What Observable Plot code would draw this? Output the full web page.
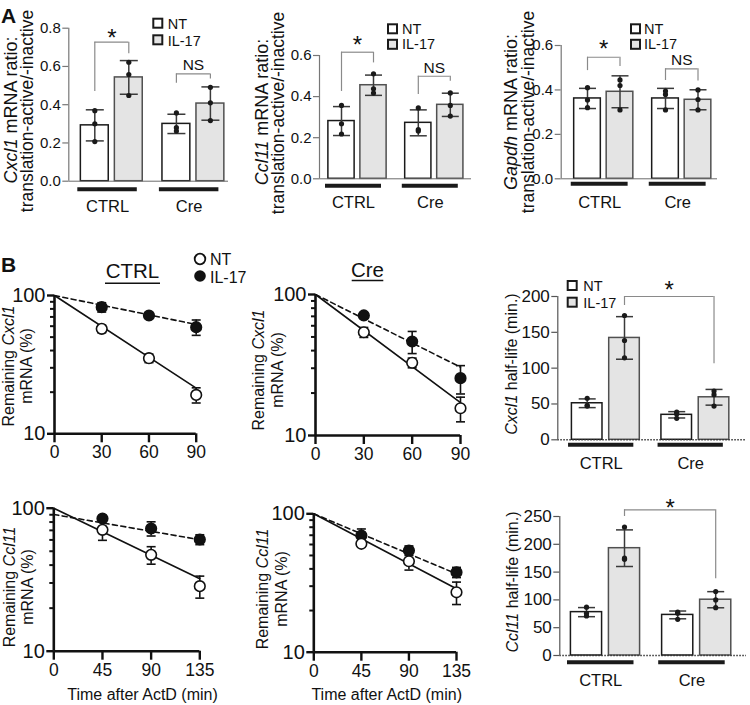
<!DOCTYPE html>
<html><head><meta charset="utf-8">
<script src="https://cdn.jsdelivr.net/npm/d3@7"></script>
<script src="https://cdn.jsdelivr.net/npm/@observablehq/plot@0.6"></script>
<style>
body{margin:0;background:#fff;}
#fig{position:relative;width:750px;height:705px;overflow:hidden;background:#fff;}
#fig svg{position:absolute;}
</style></head><body><div id="fig"></div>
<script>
const FONT = '"Liberation Sans", Arial, Helvetica, sans-serif';

// ---------- data ----------
const groups = ["CTRL", "Cre"];
const treatments = ["NT", "IL-17"];

// A: translation-active / -inactive mRNA ratio, 3 replicates, [CTRL, Cre]
const cxcl1RatioNT   = [[0.369, 0.300, 0.207], [0.357, 0.280, 0.262]];
const cxcl1RatioIL17 = [[0.622, 0.558, 0.448], [0.491, 0.410, 0.317]];
const ccl11RatioNT   = [[0.357, 0.268, 0.218], [0.345, 0.240, 0.232]];
const ccl11RatioIL17 = [[0.511, 0.438, 0.417], [0.418, 0.357, 0.305]];
const gapdhRatioNT   = [[0.410, 0.355, 0.320], [0.395, 0.380, 0.310]];
const gapdhRatioIL17 = [[0.445, 0.420, 0.310], [0.400, 0.357, 0.310]];
const ratioTicks08 = [0, 0.2, 0.4, 0.6, 0.8];
const ratioTicks06 = [0, 0.2, 0.4, 0.6];

// B: mRNA half-life (min), 3 replicates, [CTRL, Cre]
const cxcl1HalfNT   = [[58, 48, 47], [38.6, 36, 30]];
const cxcl1HalfIL17 = [[173.5, 138.6, 114.4], [68, 63, 47]];
const ccl11HalfNT   = [[87, 76, 71], [78, 76, 65]];
const ccl11HalfIL17 = [[231, 175, 173], [115, 100, 86]];
const halfTicksCxcl1 = [0, 50, 100, 150, 200];
const halfTicksCcl11 = [0, 50, 100, 150, 200, 250];

// B: remaining mRNA (%) after ActD, mean and SEM
const cxcl1Times = [30, 60, 90];
const cxcl1CtrlNT = [57.4, 35.2, 19.1],  cxcl1CtrlNTsem = [3.5, 2.5, 2.4];
const cxcl1CtrlIL = [82.3, 71.7, 59.0],  cxcl1CtrlILsem = [6.4, 2.0, 7.5];
const cxcl1CreNT  = [54.0, 32.8, 15.6],  cxcl1CreNTsem  = [4.4, 2.6, 3.1];
const cxcl1CreIL  = [71.0, 46.4, 25.5],  cxcl1CreILsem  = [3.0, 8.3, 5.8];
const ccl11Times = [45, 90, 135];
const ccl11CtrlNT = [70.6, 47.2, 28.5],  ccl11CtrlNTsem = [11, 6.6, 5.0];
const ccl11CtrlIL = [84.7, 72.1, 60.4],  ccl11CtrlILsem = [3.0, 8.2, 4.8];
const ccl11CreNT  = [60.7, 45.4, 27.1],  ccl11CreNTsem  = [2.0, 6.2, 5.0];
const ccl11CreIL  = [69.7, 54.3, 37.8],  ccl11CreILsem  = [8.0, 4.3, 3.2];
// fitted decay lines: % at t = 0 and at the last time point
const cxcl1CtrlFitNT = [100, 21.4], cxcl1CtrlFitIL = [100, 61.7];
const cxcl1CreFitNT  = [100, 17.1], cxcl1CreFitIL  = [100, 30.5];
const ccl11CtrlFitNT = [100, 32.1], ccl11CtrlFitIL = [90.4, 60.2];
const ccl11CreFitNT  = [100, 28.7], ccl11CreFitIL  = [100, 36.8];
const logMajorTicks = [10, 100];
const logMinorTicks = [20, 30, 40, 50, 60, 70, 80, 90];

// ---------- helpers ----------
const fig = document.getElementById("fig");
const G = 2.4;                          // group spacing, in bar slots
const slot = (gi, ti) => gi * G + ti;
const CAP = {draw(ctx, size) { const r = Math.sqrt(size / Math.PI); ctx.moveTo(-r, 0); ctx.lineTo(r, 0); }};
const barStyle = {"NT": {fill: "#ffffff", stroke: "#1a1a1a"}, "IL-17": {fill: "#e4e4e4", stroke: "#505050"}};

function place(svg, box) {
  svg.style.left = box.x + "px";
  svg.style.top = box.y + "px";
  fig.appendChild(svg);
}

function barPanel(cfg) {
  const rows = [];
  groups.forEach((g, gi) => [cfg.nt, cfg.il].forEach((vals, ti) => {
    const v = vals[gi];
    rows.push({group: g, treatment: treatments[ti], pos: slot(gi, ti), values: v, mean: d3.mean(v), sd: d3.deviation(v)});
  }));
  const pts = rows.flatMap(r => r.values.map(v => ({pos: r.pos, v})));
  const grp = groups.map((g, gi) => ({group: g, a: slot(gi, 0) - 0.5, b: slot(gi, 1) + 0.25, c: slot(gi, 0) + 0.375}));
  const br = cfg.brackets.map(b => ({...b, xa: slot(...b.from), xb: slot(...b.to), xm: (slot(...b.from) + slot(...b.to)) / 2}));
  const [ml, mr, mt, mb] = cfg.margins;
  const axisPos = (ml - cfg.c0) / cfg.step;
  const half = 0.41;
  const marks = [];
  treatments.forEach(t => {
    marks.push(Plot.rect(rows.filter(r => r.treatment === t), {
      x1: r => r.pos - half, x2: r => r.pos + half, y1: () => 0, y2: "mean",
      fill: barStyle[t].fill, stroke: barStyle[t].stroke, strokeWidth: 1.5}));
  });
  marks.push(cfg.dotted
    ? Plot.ruleY([0], {stroke: "#333", strokeWidth: 1.6, strokeDasharray: "1.5,1.5"})
    : Plot.ruleY([0], {stroke: "#6b6b6b", strokeWidth: 1}));
  marks.push(Plot.ruleX(rows, {x: "pos", y1: r => r.mean - r.sd, y2: r => r.mean + r.sd, stroke: "#3a3a3a", strokeWidth: 1.5}));
  marks.push(Plot.dot(rows, {x: "pos", y: r => r.mean + r.sd, symbol: CAP, r: cfg.cap, stroke: "#3a3a3a", fill: "none", strokeWidth: 1.5}));
  marks.push(Plot.dot(rows, {x: "pos", y: r => r.mean - r.sd, symbol: CAP, r: cfg.cap, stroke: "#3a3a3a", fill: "none", strokeWidth: 1.5}));
  marks.push(Plot.dot(pts, {x: "pos", y: "v", r: 2.6, fill: "#1a1a1a", stroke: "none"}));
  // y axis
  marks.push(Plot.ruleX([axisPos], {y1: cfg.yDomain[0], y2: cfg.yDomain[1], stroke: cfg.axisColor, strokeWidth: 1.2}));
  marks.push(Plot.axisY({ticks: cfg.ticks, tickSize: 6, tickPadding: 2, tickFormat: cfg.fmt, fontSize: cfg.tickFont, stroke: cfg.axisColor, strokeWidth: 1.2, label: null}));
  // brackets
  marks.push(Plot.ruleY(br, {x1: "xa", x2: "xb", y: "y", stroke: "#8a8a8a", strokeWidth: 1.2}));
  marks.push(Plot.ruleX(br, {x: "xa", y1: "yFrom", y2: "y", stroke: "#8a8a8a", strokeWidth: 1.2}));
  marks.push(Plot.ruleX(br, {x: "xb", y1: "yTo", y2: "y", stroke: "#8a8a8a", strokeWidth: 1.2}));
  marks.push(Plot.text(br.filter(b => b.label === "*"), {x: "xm", y: "labelY", text: "label", fontSize: 24, dy: 6, fill: "#111"}));
  marks.push(Plot.text(br.filter(b => b.label !== "*"), {x: "xm", y: "labelY", text: "label", fontSize: 15.5, fill: "#111"}));
  // group underlines and labels
  marks.push(Plot.ruleY(grp, {x1: "a", x2: "b", y: () => 0, dy: cfg.ulDy, stroke: "#1a1a1a", strokeWidth: 4}));
  marks.push(Plot.text(grp, {x: "c", y: () => 0, dy: cfg.labDy, text: "group", fontSize: 16.5, fill: "#111"}));

  const svg = Plot.plot({
    width: cfg.box.w, height: cfg.box.h,
    marginLeft: ml, marginRight: mr, marginTop: mt, marginBottom: mb,
    x: {type: "linear", domain: [0, 1], range: [cfg.c0, cfg.c0 + cfg.step], axis: null},
    y: {domain: cfg.yDomain},
    style: {fontFamily: FONT, fontSize: "14px", color: "#111", background: "transparent", overflow: "visible"},
    marks
  });
  place(svg, cfg.box);
}

function linePanel(cfg) {
  const tEnd = cfg.times[cfg.times.length - 1];
  const series = [
    {name: "IL-17", mean: cfg.ilMean, sem: cfg.ilSem, fit: cfg.ilFit, fill: "#111", dash: "5,3.5"},
    {name: "NT", mean: cfg.ntMean, sem: cfg.ntSem, fit: cfg.ntFit, fill: "#fff", dash: null}
  ];
  const marks = [
    Plot.ruleY([10], {stroke: "#111", strokeWidth: 2.6}),
    Plot.ruleX([0], {stroke: "#111", strokeWidth: 2.6}),
    Plot.axisY({ticks: logMajorTicks, tickSize: 7, tickPadding: 2, tickFormat: d => String(d), fontSize: 20, strokeWidth: 2.4, label: null}),
    Plot.axisY({ticks: logMinorTicks, tickSize: 4, tickFormat: () => "", strokeWidth: 2, label: null}),
    Plot.axisX({ticks: [0, ...cfg.times], tickSize: 9, tickPadding: 3, fontSize: 17.5, strokeWidth: 2.4, label: null})
  ];
  series.forEach(s => {
    const fit = [{t: 0, v: s.fit[0]}, {t: tEnd, v: s.fit[1]}];
    const opts = {x: "t", y: "v", stroke: "#111", strokeWidth: 1.6};
    if (s.dash) opts.strokeDasharray = s.dash;
    marks.push(Plot.line(fit, opts));
  });
  series.forEach(s => {
    const pts = cfg.times.map((t, i) => ({t, m: s.mean[i], lo: s.mean[i] - s.sem[i], hi: s.mean[i] + s.sem[i]}));
    marks.push(Plot.ruleX(pts, {x: "t", y1: "lo", y2: "hi", stroke: "#111", strokeWidth: 1.6}));
    marks.push(Plot.dot(pts, {x: "t", y: "hi", symbol: CAP, r: 4.5, stroke: "#111", fill: "none", strokeWidth: 1.6}));
    marks.push(Plot.dot(pts, {x: "t", y: "lo", symbol: CAP, r: 4.5, stroke: "#111", fill: "none", strokeWidth: 1.6}));
    marks.push(Plot.dot(pts, {x: "t", y: "m", r: 5.3, fill: s.fill, stroke: "#111", strokeWidth: 1.6}));
  });
  const [ml, mr, mt, mb] = cfg.margins;
  const svg = Plot.plot({
    width: cfg.box.w, height: cfg.box.h,
    marginLeft: ml, marginRight: mr, marginTop: mt, marginBottom: mb,
    x: {domain: [0, tEnd]},
    y: {type: "log", domain: [10, 100]},
    style: {fontFamily: FONT, fontSize: "17px", color: "#111", background: "transparent", overflow: "visible"},
    marks
  });
  place(svg, cfg.box);
}

// ---------- panels ----------
const fmt1 = d3.format(".1f");
barPanel({box: {x: 0, y: 0, w: 250, h: 220}, margins: [68.3, 22, 27.7, 39.3], c0: 94.3, step: 34,
  nt: cxcl1RatioNT, il: cxcl1RatioIL17, yDomain: [0, 0.8], ticks: ratioTicks08, fmt: fmt1, tickFont: 15,
  axisColor: "#777", cap: 9, ulDy: 8, labDy: 26,
  brackets: [{from: [0, 0], to: [0, 1], y: 0.727, yFrom: 0.469, yTo: 0.666, label: "*", labelY: 0.78},
             {from: [1, 0], to: [1, 1], y: 0.561, yFrom: 0.512, yTo: 0.535, label: "NS", labelY: 0.605}]});
barPanel({box: {x: 250, y: 0, w: 250, h: 220}, margins: [69, 29, 55, 41.7], c0: 91, step: 32,
  nt: ccl11RatioNT, il: ccl11RatioIL17, yDomain: [0, 0.6], ticks: ratioTicks06, fmt: fmt1, tickFont: 15,
  axisColor: "#777", cap: 8.5, ulDy: 7, labDy: 24,
  brackets: [{from: [0, 0], to: [0, 1], y: 0.616, yFrom: 0.425, yTo: 0.564, label: "*", labelY: 0.68},
             {from: [1, 0], to: [1, 1], y: 0.499, yFrom: 0.41, yTo: 0.475, label: "NS", labelY: 0.54}]});
barPanel({box: {x: 500, y: 0, w: 250, h: 220}, margins: [60.7, 33, 45, 41.7], c0: 87, step: 32.5,
  nt: gapdhRatioNT, il: gapdhRatioIL17, yDomain: [0, 0.6], ticks: ratioTicks06, fmt: fmt1, tickFont: 15,
  axisColor: "#777", cap: 8.5, ulDy: 5, labDy: 24,
  brackets: [{from: [0, 0], to: [0, 1], y: 0.547, yFrom: 0.487, yTo: 0.505, label: "*", labelY: 0.608},
             {from: [1, 0], to: [1, 1], y: 0.495, yFrom: 0.4425, yTo: 0.44, label: "NS", labelY: 0.533}]});
barPanel({box: {x: 500, y: 225, w: 250, h: 250}, margins: [57.3, 4, 71, 35.7], c0: 86.7, step: 37.3,
  nt: cxcl1HalfNT, il: cxcl1HalfIL17, yDomain: [0, 200], ticks: halfTicksCxcl1, fmt: d => String(d), tickFont: 17,
  axisColor: "#555", cap: 8.5, ulDy: 5, labDy: 24, dotted: true,
  brackets: [{from: [0, 1], to: [1, 1], y: 200, yFrom: 187.4, yTo: 106, label: "*", labelY: 216.7}]});
barPanel({box: {x: 500, y: 480, w: 250, h: 225}, margins: [59.3, 4, 36, 50], c0: 86, step: 38,
  nt: ccl11HalfNT, il: ccl11HalfIL17, yDomain: [0, 250], ticks: halfTicksCcl11, fmt: d => String(d), tickFont: 17,
  axisColor: "#555", cap: 8.5, ulDy: 6.7, labDy: 25, dotted: true,
  brackets: [{from: [0, 1], to: [1, 1], y: 262, yFrom: 250, yTo: 138, label: "*", labelY: 275.7}]});

linePanel({box: {x: 0, y: 225, w: 250, h: 235}, margins: [54, 54.3, 70, 26.7], times: cxcl1Times,
  ntMean: cxcl1CtrlNT, ntSem: cxcl1CtrlNTsem, ilMean: cxcl1CtrlIL, ilSem: cxcl1CtrlILsem, ntFit: cxcl1CtrlFitNT, ilFit: cxcl1CtrlFitIL});
linePanel({box: {x: 250, y: 225, w: 250, h: 235}, margins: [65, 40, 69, 25], times: cxcl1Times,
  ntMean: cxcl1CreNT, ntSem: cxcl1CreNTsem, ilMean: cxcl1CreIL, ilSem: cxcl1CreILsem, ntFit: cxcl1CreFitNT, ilFit: cxcl1CreFitIL});
linePanel({box: {x: 0, y: 480, w: 250, h: 225}, margins: [53.3, 50.7, 27.7, 54.3], times: ccl11Times,
  ntMean: ccl11CtrlNT, ntSem: ccl11CtrlNTsem, ilMean: ccl11CtrlIL, ilSem: ccl11CtrlILsem, ntFit: ccl11CtrlFitNT, ilFit: ccl11CtrlFitIL});
linePanel({box: {x: 250, y: 480, w: 250, h: 225}, margins: [63.3, 44, 33.3, 53.3], times: ccl11Times,
  ntMean: ccl11CreNT, ntSem: ccl11CreNTsem, ilMean: ccl11CreIL, ilSem: ccl11CreILsem, ntFit: ccl11CreFitNT, ilFit: ccl11CreFitIL});

// ---------- overlay text, titles and legends ----------
const ov = d3.select("#fig").append("svg").attr("width", 750).attr("height", 705)
  .style("left", "0px").style("top", "0px").attr("font-family", FONT).attr("fill", "#111");

function txt(x, y, s, size, opts = {}) {
  return ov.append("text").attr("x", x).attr("y", y).attr("font-size", size)
    .attr("text-anchor", opts.anchor || "start").attr("font-weight", opts.bold ? "bold" : null).text(s);
}
function vtext(x, y, size, parts) {
  const t = ov.append("text").attr("transform", `translate(${x},${y}) rotate(-90)`)
    .attr("text-anchor", "middle").attr("font-size", size);
  parts.forEach(p => t.append("tspan").attr("font-style", p[1] ? "italic" : null).text(p[0]));
}
function squareLegend(x, y1, y2, tx, b1, b2, size) {
  [[y1, barStyle["NT"].fill, "NT", b1], [y2, barStyle["IL-17"].fill, "IL-17", b2]].forEach(([y, fill, label, b]) => {
    ov.append("rect").attr("x", x + 1).attr("y", y + 1).attr("width", 9).attr("height", 9)
      .attr("fill", fill).attr("stroke", "#1a1a1a").attr("stroke-width", 2);
    txt(tx, b, label, size);
  });
}

txt(1, 23.3, "A", 21, {bold: true});
txt(1, 272, "B", 21, {bold: true});

vtext(16.7, 110, 18, [["Cxcl1", 1], [" mRNA ratio:", 0]]);
vtext(33.3, 111, 17.5, [["translation-active/-inactive", 0]]);
vtext(268, 112, 18, [["Ccl11", 1], [" mRNA ratio:", 0]]);
vtext(283.5, 113, 17.5, [["translation-active/-inactive", 0]]);
vtext(517, 112, 18, [["Gapdh", 1], [" mRNA ratio:", 0]]);
vtext(533.5, 112, 17.5, [["translation-active/-inactive", 0]]);

vtext(13.5, 366, 16, [["Remaining ", 0], ["Cxcl1", 1]]);
vtext(31.5, 366, 16, [["mRNA (%)", 0]]);
vtext(264.2, 370, 16, [["Remaining ", 0], ["Cxcl1", 1]]);
vtext(283.2, 370, 16, [["mRNA (%)", 0]]);
vtext(14.8, 587, 16, [["Remaining ", 0], ["Ccl11", 1]]);
vtext(33.2, 587, 16, [["mRNA (%)", 0]]);
vtext(268.2, 589, 16, [["Remaining ", 0], ["Ccl11", 1]]);
vtext(286.5, 589, 16, [["mRNA (%)", 0]]);
vtext(516.5, 364, 16, [["Cxcl1", 1], [" half-life (min.)", 0]]);
vtext(518.2, 582, 16, [["Ccl11", 1], [" half-life (min.)", 0]]);

txt(142.5, 700, "Time after ActD (min)", 16, {anchor: "middle"});
txt(386.7, 700, "Time after ActD (min)", 16, {anchor: "middle"});

squareLegend(152.3, 17.7, 34.3, 167.7, 28.5, 45.5, 14.5);
squareLegend(387, 23.3, 38.8, 402, 33.5, 49, 14.5);
squareLegend(630, 23.3, 38.8, 644, 33.5, 49, 14.5);
squareLegend(566.7, 280, 296.7, 583.3, 291, 307.5, 14.5);

// line legend
ov.append("circle").attr("cx", 200).attr("cy", 259).attr("r", 5.3).attr("fill", "#fff").attr("stroke", "#111").attr("stroke-width", 1.8);
ov.append("circle").attr("cx", 200).attr("cy", 276).attr("r", 5.8).attr("fill", "#111");
txt(210, 265, "NT", 16);
txt(210, 282.5, "IL-17", 16);

// condition titles
txt(132.5, 278.3, "CTRL", 20.5, {anchor: "middle"});
ov.append("line").attr("x1", 105).attr("x2", 160).attr("y1", 283.3).attr("y2", 283.3).attr("stroke", "#111").attr("stroke-width", 1.5);
txt(367.5, 276.7, "Cre", 20.5, {anchor: "middle"});
ov.append("line").attr("x1", 351.7).attr("x2", 383.3).attr("y1", 280.5).attr("y2", 280.5).attr("stroke", "#111").attr("stroke-width", 1.5);
</script></body></html>
